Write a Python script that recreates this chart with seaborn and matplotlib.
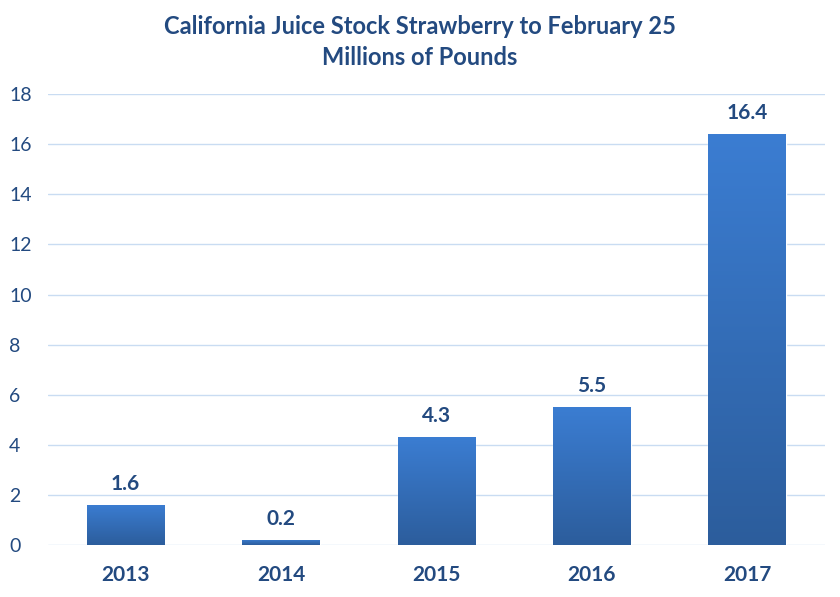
import numpy as np
import pandas as pd
import seaborn as sns
import matplotlib.pyplot as plt
from matplotlib.colors import LinearSegmentedColormap

years = ["2013", "2014", "2015", "2016", "2017"]
stock = [1.6, 0.2, 4.3, 5.5, 16.4]
yticks = [0, 2, 4, 6, 8, 10, 12, 14, 16, 18]

sns.set_theme(style="white")
plt.rcParams["font.family"] = ["Lato", "DejaVu Sans"]

dark = "#234a80"
df = pd.DataFrame({"year": years, "stock": stock})

fig = plt.figure(figsize=(8.4, 5.97), dpi=100)
ax = fig.add_axes([0.057, 0.087, 0.925, 0.7554])
sns.barplot(data=df, x="year", y="stock", color="#3572c0", width=0.5,
            ax=ax, zorder=2)

# vertical gradient fill on each bar
cmap = LinearSegmentedColormap.from_list("bar", ["#2c5d9c", "#3b7dd2"])
grad = np.linspace(0, 1, 256).reshape(-1, 1)
for p in ax.patches:
    x0, y0, w, h = p.get_x(), p.get_y(), p.get_width(), p.get_height()
    im = ax.imshow(grad, extent=[x0, x0 + w, y0, y0 + h], origin="lower",
                   cmap=cmap, aspect="auto", zorder=3)
    im.set_clip_path(p)
    ax.text(x0 + w / 2, h + 0.45, f"{h:.1f}", ha="center", va="bottom",
            fontsize=15, fontweight="bold", color=dark, zorder=4)

ax.set_xlim(-0.5, 4.5)
ax.set_ylim(0, 18)
ax.set_yticks(yticks)
ax.grid(axis="y", color="#c9dcf2", linewidth=1, zorder=0)
ax.set_axisbelow(True)
for s in ax.spines.values():
    s.set_visible(False)
ax.set_xlabel("")
ax.set_ylabel("")
ax.tick_params(axis="x", length=0, pad=14, labelsize=15, colors=dark)
ax.tick_params(axis="y", length=0, pad=28, labelsize=14, colors=dark)
for lbl in ax.get_xticklabels():
    lbl.set_fontweight("bold")
for lbl in ax.get_yticklabels():
    lbl.set_horizontalalignment("left")

fig.text(0.5, 0.975, "California Juice Stock Strawberry to February 25\nMillions of Pounds",
         ha="center", va="top", fontsize=17, fontweight="bold", color=dark,
         linespacing=1.45)

fig.savefig("out.png", dpi=100, facecolor="white")
